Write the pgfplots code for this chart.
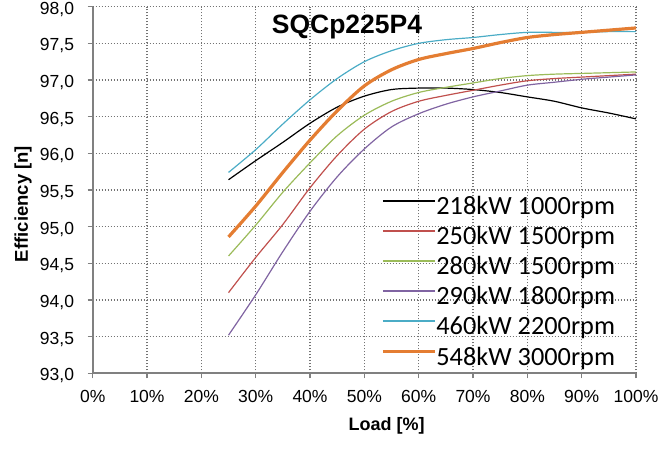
\documentclass[border=0pt]{standalone}
\usepackage{fontspec}
\setmainfont{Liberation Sans}
\newfontfamily\legfont{Carlito}
\usepackage{pgfplots}
\pgfplotsset{compat=1.18}
\definecolor{cblack}{RGB}{0,0,0}
\definecolor{cred}{RGB}{192,80,77}
\definecolor{cgreen}{RGB}{155,187,89}
\definecolor{cpurple}{RGB}{128,100,162}
\definecolor{cteal}{RGB}{75,172,198}
\definecolor{corange}{RGB}{228,125,50}
\definecolor{axgray}{RGB}{128,128,128}
\definecolor{gridgray}{RGB}{115,115,115}
\begin{document}
\begin{tikzpicture}
\useasboundingbox (-92.7pt,-76.7pt) rectangle (576.3pt,373.3pt);
\begin{axis}[
  at={(0pt,0pt)}, anchor=south west,
  scale only axis,
  width=543.3pt, height=366.6pt,
  xmin=0, xmax=100, ymin=93, ymax=98,
  xtick={0,10,20,30,40,50,60,70,80,90,100},
  xticklabels={0\%,10\%,20\%,30\%,40\%,50\%,60\%,70\%,80\%,90\%,100\%},
  ytick={93,93.5,94,94.5,95,95.5,96,96.5,97,97.5,98},
  /pgf/number format/assume math mode=true,
  tick label style={font=\fontsize{17.5}{20}\selectfont, inner sep=0pt},
  yticklabel style={/pgf/number format/fixed, /pgf/number format/fixed zerofill, /pgf/number format/precision=1, /pgf/number format/use comma, anchor=base east, xshift=-13.5pt, yshift=-7.4pt},
  xticklabel style={anchor=north, yshift=-12pt},
  axis line style={draw=none},
  tick align=outside,
  tick pos=left,
  major tick length=5pt,
  tick style={axgray, line width=1.6pt},
  grid=major,
  grid style={gridgray, line width=1.5pt, dash pattern=on 1.5pt off 1.5pt},
  after end axis/.code={\draw[axgray, line width=2pt] (rel axis cs:0,1) -- (rel axis cs:0,0) -- (rel axis cs:1,0);},
  title={\bfseries SQCp225P4},
  title style={at={(rel axis cs:0.468,0.911)}, anchor=base, font=\fontsize{26.5}{30}\selectfont, inner sep=0pt},
  xlabel={\bfseries Load [\%]},
  xlabel style={at={(rel axis cs:0.541,-0.1566)}, anchor=base, font=\fontsize{18}{20}\selectfont, inner sep=0pt},
  ylabel={\bfseries Efficiency [n]},
  ylabel style={at={(rel axis cs:-0.1283,0.4618)}, anchor=center, rotate=0, font=\fontsize{18.5}{20}\selectfont, inner sep=0pt},
  legend style={draw=none, fill=none, at={(axis cs:53.06,95.40)}, anchor=north west,
    font=\legfont\fontsize{26.3}{30}\selectfont,
    nodes={inner sep=0pt, text height=17pt, text depth=6pt},
    row sep=7.1pt, inner sep=0pt},
  legend cell align=left,
  legend image code/.code={\draw[#1] (0pt,8.3pt) -- (52pt,8.3pt);},
]
\addplot[cblack, line width=1.2pt, smooth, legend image post style={line width=1.7pt}] coordinates {(25,95.64) (30,95.90) (35,96.15) (40,96.41) (45,96.63) (50,96.78) (55,96.87) (60,96.89) (65,96.89) (70,96.87) (75,96.83) (80,96.77) (85,96.71) (90,96.62) (95,96.55) (100,96.47)};
\addlegendentry{218kW 1000rpm}
\addplot[cred, line width=1.2pt, smooth, legend image post style={line width=1.7pt}] coordinates {(25,94.10) (30,94.58) (35,95.03) (40,95.53) (45,95.97) (50,96.33) (55,96.57) (60,96.71) (65,96.79) (70,96.86) (75,96.93) (80,96.99) (85,97.02) (90,97.04) (95,97.06) (100,97.08)};
\addlegendentry{250kW 1500rpm}
\addplot[cgreen, line width=1.2pt, smooth, legend image post style={line width=1.7pt}] coordinates {(25,94.60) (30,95.02) (35,95.47) (40,95.87) (45,96.24) (50,96.52) (55,96.71) (60,96.83) (65,96.90) (70,96.96) (75,97.02) (80,97.06) (85,97.08) (90,97.09) (95,97.10) (100,97.11)};
\addlegendentry{280kW 1500rpm}
\addplot[cpurple, line width=1.2pt, smooth, legend image post style={line width=1.7pt}] coordinates {(25,93.52) (30,94.07) (35,94.66) (40,95.21) (45,95.68) (50,96.06) (55,96.36) (60,96.54) (65,96.67) (70,96.77) (75,96.85) (80,96.93) (85,96.97) (90,97.01) (95,97.04) (100,97.07)};
\addlegendentry{290kW 1800rpm}
\addplot[cteal, line width=1.2pt, smooth, legend image post style={line width=1.7pt}] coordinates {(25,95.74) (30,96.05) (35,96.40) (40,96.73) (45,97.02) (50,97.25) (55,97.40) (60,97.50) (65,97.55) (70,97.58) (75,97.62) (80,97.65) (85,97.65) (90,97.65) (95,97.66) (100,97.66)};
\addlegendentry{460kW 2200rpm}
\addplot[corange, line width=3.2pt, smooth] coordinates {(25,94.86) (30,95.28) (35,95.74) (40,96.18) (45,96.58) (50,96.92) (55,97.14) (60,97.28) (65,97.36) (70,97.43) (75,97.51) (80,97.58) (85,97.62) (90,97.65) (95,97.68) (100,97.71)};
\addlegendentry{548kW 3000rpm}
\end{axis}
\end{tikzpicture}
\end{document}
